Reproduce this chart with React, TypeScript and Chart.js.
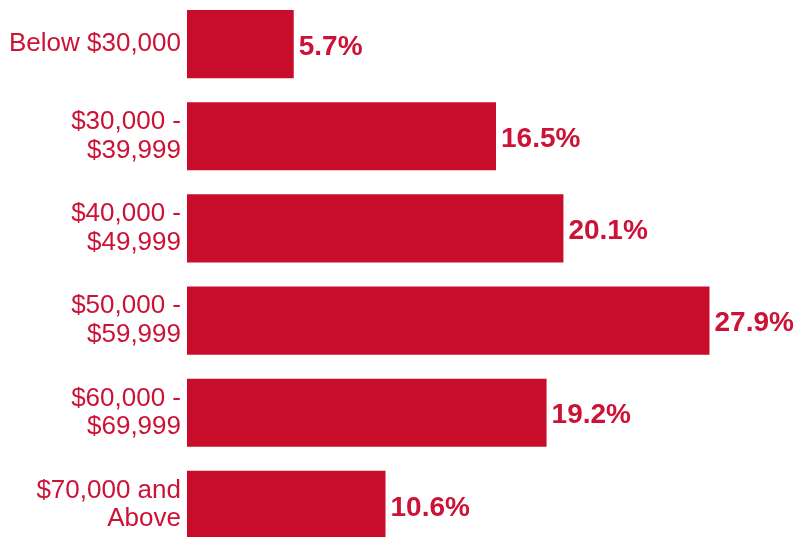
import React, { useEffect, useRef } from "react";
import { Chart, registerables } from "chart.js";

Chart.register(...registerables);

const categories: string[][] = [
  ["Below $30,000"],
  ["$30,000 -", "$39,999"],
  ["$40,000 -", "$49,999"],
  ["$50,000 -", "$59,999"],
  ["$60,000 -", "$69,999"],
  ["$70,000 and", "Above"],
];
const shares: number[] = [5.7, 16.5, 20.1, 27.9, 19.2, 10.6];
const valueLabels: string[] = ["5.7%", "16.5%", "20.1%", "27.9%", "19.2%", "10.6%"];

const BAR_COLOR = "#C80D2B";
const TEXT_COLOR = "#CC1236";
const FONT = "'Liberation Sans', Arial, Helvetica, sans-serif";

const valueLabelPlugin = {
  id: "valueLabels",
  afterDatasetsDraw(chart: any) {
    const ctx = chart.ctx;
    const meta = chart.getDatasetMeta(0);
    ctx.save();
    ctx.fillStyle = TEXT_COLOR;
    ctx.font = `bold 28px ${FONT}`;
    ctx.textAlign = "left";
    ctx.textBaseline = "middle";
    meta.data.forEach((bar: any, i: number) => {
      ctx.fillText(valueLabels[i], bar.x + 5, bar.y + 3);
    });
    ctx.restore();
  },
};

export default function App() {
  const ref = useRef<HTMLCanvasElement | null>(null);

  useEffect(() => {
    if (!ref.current) return;
    const chart = new Chart(ref.current, {
      type: "bar",
      data: {
        labels: categories,
        datasets: [
          {
            data: shares,
            backgroundColor: BAR_COLOR,
            borderWidth: 0,
            barPercentage: 0.74,
            categoryPercentage: 1,
          },
        ],
      },
      options: {
        indexAxis: "y",
        animation: false,
        responsive: false,
        layout: { padding: 0 },
        plugins: {
          legend: { display: false },
          title: { display: false },
          tooltip: { enabled: false },
        },
        scales: {
          x: {
            display: false,
            min: 0,
            max: 33,
          },
          y: {
            grid: { display: false, drawTicks: false },
            border: { display: false },
            afterFit: (scale: any) => {
              scale.width = 187;
              scale.paddingTop = 0;
              scale.paddingBottom = 0;
            },
            ticks: {
              color: TEXT_COLOR,
              padding: 6,
              font: { family: FONT, size: 26, lineHeight: 1.1 },
            },
          },
        },
      },
      plugins: [valueLabelPlugin],
    });
    return () => chart.destroy();
  }, []);

  return (
    <div
      style={{
        position: "fixed",
        left: 0,
        top: -2,
        width: 805,
        height: 553,
        background: "#fff",
      }}
    >
      <canvas ref={ref} width={805} height={553} style={{ display: "block" }} />
    </div>
  );
}
